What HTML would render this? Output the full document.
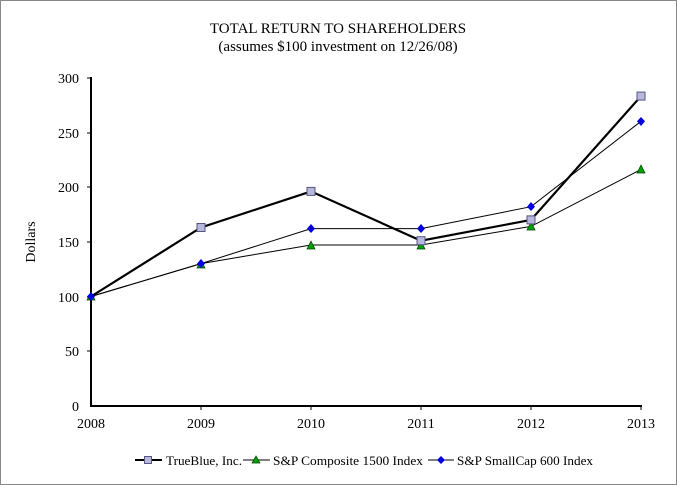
<!DOCTYPE html>
<html><head><style>body{margin:0;background:#fff}svg{display:block}text{font-family:"Liberation Serif",serif;fill:#000}</style></head><body>
<svg width="677" height="485" viewBox="0 0 677 485">
<rect x="0.5" y="0.5" width="676" height="484" fill="#fff" stroke="#888"/>
<text x="338" y="33" font-size="15" text-anchor="middle">TOTAL RETURN TO SHAREHOLDERS</text>
<text x="338" y="51" font-size="15" text-anchor="middle">(assumes $100 investment on 12/26/08)</text>
<g font-size="14" text-anchor="end">
<text x="79" y="83">300</text><text x="79" y="138">250</text><text x="79" y="192">200</text><text x="79" y="247">150</text><text x="79" y="302">100</text><text x="79" y="356">50</text><text x="79" y="411">0</text>
</g>
<text transform="translate(35,242) rotate(-90)" font-size="14" text-anchor="middle">Dollars</text>
<g font-size="14" text-anchor="middle">
<text x="91" y="428">2008</text><text x="201" y="428">2009</text><text x="311" y="428">2010</text><text x="421" y="428">2011</text><text x="531" y="428">2012</text><text x="641" y="428">2013</text>
</g>
<g stroke="#000" stroke-width="1">
<line x1="87" y1="78" x2="91" y2="78"/><line x1="87" y1="133" x2="91" y2="133"/><line x1="87" y1="187" x2="91" y2="187"/><line x1="87" y1="242" x2="91" y2="242"/><line x1="87" y1="297" x2="91" y2="297"/><line x1="87" y1="351" x2="91" y2="351"/>
<line x1="201" y1="406" x2="201" y2="410"/><line x1="311" y1="406" x2="311" y2="410"/><line x1="421" y1="406" x2="421" y2="410"/><line x1="531" y1="406" x2="531" y2="410"/><line x1="641" y1="406" x2="641" y2="410"/>
</g>
<line x1="91" y1="77" x2="91" y2="407" stroke="#000" stroke-width="2"/>
<line x1="90" y1="406" x2="642" y2="406" stroke="#000" stroke-width="2"/>
<polyline fill="none" stroke="#000" stroke-width="1" points="91,296.5 201,263.6 311,245 421,245 531,226.4 641,169.5"/>
<polyline fill="none" stroke="#000" stroke-width="1" points="91,296.5 201,263.6 311,228.6 421,228.6 531,206.7 641,121.3"/>
<polyline fill="none" stroke="#000" stroke-width="2.2" points="91,296.5 201,227.5 311,191.4 421,240.7 531,219.9 641,96.1"/>
<g fill="#00a000" stroke="#004000" stroke-width="0.7">
<polygon points="91,292 87,300 95,300"/><polygon points="201,260 197,268 205,268"/><polygon points="311,241 307,249 315,249"/><polygon points="421,241 417,249 425,249"/><polygon points="531,222 527,230 535,230"/><polygon points="641,165 637,173 645,173"/>
</g>
<g fill="#0000e0">
<polygon points="91,292 95,296.5 91,301 87,296.5"/><polygon points="201,259 205,263.6 201,268 197,263.6"/><polygon points="311,224 315,228.6 311,233 307,228.6"/><polygon points="421,224 425,228.6 421,233 417,228.6"/><polygon points="531,202 535,206.7 531,211 527,206.7"/><polygon points="641,117 645,121.3 641,126 637,121.3"/>
</g>
<g fill="#b8b8dc" stroke="#555580" stroke-width="1">
<rect x="197" y="223.5" width="8" height="8"/><rect x="307" y="187.4" width="8" height="8"/><rect x="417" y="236.7" width="8" height="8"/><rect x="527" y="215.9" width="8" height="8"/><rect x="637" y="92.1" width="8" height="8"/>
</g>
<g font-size="13">
<line x1="135" y1="460" x2="162" y2="460" stroke="#000" stroke-width="2"/>
<rect x="144.5" y="456.5" width="7" height="7" fill="#b8b8dc" stroke="#555580"/>
<text x="166" y="465" textLength="76" lengthAdjust="spacingAndGlyphs">TrueBlue, Inc.</text>
<line x1="243" y1="460" x2="270" y2="460" stroke="#000"/>
<polygon points="256,456 252,463 260,463" fill="#00a000" stroke="#004000" stroke-width="0.7"/>
<text x="273" y="465" textLength="150" lengthAdjust="spacingAndGlyphs">S&amp;P Composite 1500 Index</text>
<line x1="428" y1="460" x2="454" y2="460" stroke="#000"/>
<polygon points="441,456 445,460 441,464 437,460" fill="#0000e0"/>
<text x="457" y="465" textLength="136" lengthAdjust="spacingAndGlyphs">S&amp;P SmallCap 600 Index</text>
</g>
</svg>
</body></html>
